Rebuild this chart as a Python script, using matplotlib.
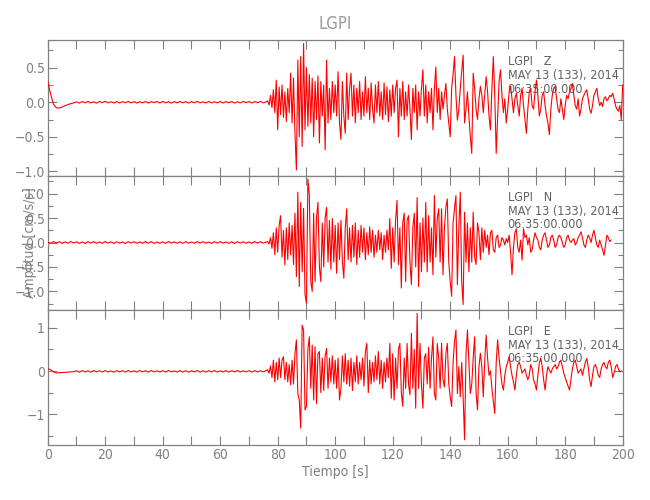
import numpy as np
import matplotlib
matplotlib.use("Agg")
import matplotlib.pyplot as plt
from matplotlib import font_manager
from matplotlib.ticker import MultipleLocator, FuncFormatter

# sampling: quiet part every 1 s from t=0, active part every 0.5 s from t=76.5
dt_q = 1.0
t0_a = 76.5
dt_a = 0.5

z_quiet = [0.30, 0.12, -0.03, -0.08, -0.085, -0.07, -0.05, -0.035, -0.02, -0.01,
           0.005, -0.012, 0.010, -0.008, 0.012, -0.010, 0.006, -0.014, 0.011, -0.006,
           0.013, -0.009, 0.007, -0.012, 0.010, -0.011, 0.008, -0.007, 0.012, -0.010,
           0.009, -0.013, 0.006, -0.009, 0.011, -0.012, 0.008, -0.006, 0.010, -0.011,
           0.012, -0.008, 0.007, -0.013, 0.009, -0.010, 0.011, -0.007, 0.008, -0.012,
           0.010, -0.009, 0.013, -0.008, 0.006, -0.011, 0.012, -0.010, 0.007, -0.009,
           0.011, -0.012, 0.009, -0.007, 0.010, -0.013, 0.008, -0.010, 0.012, -0.006,
           0.009, -0.011, 0.010, -0.008, 0.012, -0.010, 0.006]

z_active = [0.02, -0.04, 0.10, -0.08, 0.18, -0.15, 0.32, -0.40, 0.22, -0.18,
            0.25, -0.22, 0.15, -0.28, 0.20, -0.15, 0.42, -0.30, 0.35, -0.45,
            -0.98, 0.61, -0.50, 0.66, -0.64, 0.85, -0.40, 0.50, -0.35, 0.40,
            -0.30, 0.35, -0.50, 0.30, -0.25, 0.38, -0.59, 0.30, -0.20, 0.25,
            -0.69, 0.61, -0.30, 0.20, -0.25, 0.30, -0.15, 0.25, -0.20, 0.44,
            -0.30, -0.54, 0.30, -0.20, -0.45, 0.42, -0.25, 0.20, 0.42, -0.20,
            0.25, -0.30, 0.20, -0.15, 0.30, -0.25, 0.15, -0.20, 0.37, -0.15,
            0.20, -0.25, 0.28, -0.10, -0.30, 0.25, -0.15, 0.30, -0.20, 0.15,
            -0.25, 0.28, -0.18, 0.22, -0.28, 0.18, -0.20, 0.25, -0.15, 0.20,
            0.32, -0.50, 0.20, -0.20, 0.30, -0.25, 0.15, -0.20, 0.25, -0.10,
            -0.54, 0.20, -0.15, 0.25, -0.40, 0.15, -0.20, 0.20, 0.47, -0.20,
            0.25, -0.30, 0.15, -0.15, 0.20, -0.40, 0.20, 0.51, -0.15, 0.20,
            -0.25, 0.15, -0.10, 0.10, 0.27, -0.10, -0.30, -0.50, 0.20, 0.40,
            0.66, 0.10, -0.26, -0.10, 0.20, 0.45, 0.68, -0.30, -0.10, 0.15,
            -0.20, -0.50, -0.74, 0.42, 0.20, -0.10, -0.25, 0.05, 0.23, 0.10,
            -0.15, 0.10, 0.37, 0.15, -0.20, -0.40, 0.20, 0.66, 0.10, -0.74,
            -0.20, 0.30, 0.47, 0.10, -0.15, 0.05, -0.30, -0.10, 0.15, 0.23,
            0.05, -0.15, 0.05, 0.13, -0.05, -0.20, 0.10, 0.20, -0.05, -0.25,
            -0.45, -0.10, 0.15, 0.20, -0.05, -0.10, 0.15, 0.32, 0.10, -0.20,
            -0.10, 0.10, 0.15, -0.05, -0.20, -0.30, -0.47, -0.10, 0.10, 0.20,
            0.23, 0.05, -0.10, -0.15, 0.05, -0.10, -0.25, -0.05, 0.10, 0.05,
            0.15, 0.20, 0.27, 0.10, -0.05, -0.10, 0.05, -0.20, -0.10, 0.05,
            0.10, 0.15, 0.18, 0.05, -0.10, -0.16, -0.05, 0.10, 0.15, 0.20,
            0.05, -0.05, 0.00, -0.06, 0.05, 0.08, 0.02, 0.05, 0.10, 0.08,
            0.13, 0.05, -0.05, -0.10, -0.13, -0.05, -0.25, 0.25]

n_quiet = [0.010, -0.015, 0.018, -0.012, 0.016, -0.018, 0.012, -0.015, 0.020, -0.010,
           0.014, -0.017, 0.011, -0.019, 0.015, -0.012, 0.018, -0.014, 0.010, -0.016,
           0.019, -0.011, 0.013, -0.018, 0.016, -0.013, 0.012, -0.020, 0.017, -0.010,
           0.015, -0.016, 0.011, -0.014, 0.018, -0.012, 0.016, -0.019, 0.010, -0.015,
           0.013, -0.017, 0.019, -0.011, 0.014, -0.016, 0.012, -0.018, 0.017, -0.013,
           0.011, -0.015, 0.016, -0.012, 0.018, -0.014, 0.010, -0.017, 0.015, -0.011,
           0.019, -0.013, 0.012, -0.016, 0.014, -0.018, 0.016, -0.010, 0.013, -0.015,
           0.011, -0.017, 0.018, -0.012, 0.015, -0.014, 0.010]

n_active = [0.02, -0.03, 0.10, -0.12, 0.20, -0.25, 0.30, -0.20, 0.35, 0.55,
            -0.30, 0.25, -0.46, 0.30, -0.35, 0.40, -0.25, 0.35, -0.45, 0.60,
            -0.70, 1.03, -0.90, 0.82, -0.60, 0.70, -1.07, -1.24, 1.30, 0.96,
            -0.80, -1.00, 0.60, -0.80, 0.50, 0.82, -0.50, -0.80, 0.40, -0.50,
            0.50, 0.72, -0.40, 0.45, -0.55, 0.49, -0.40, 0.35, -0.63, 0.40,
            -0.35, 0.45, -0.40, -0.73, 0.30, 0.69, -0.35, 0.30, -0.40, 0.35,
            -0.30, 0.40, -0.45, 0.25, -0.30, 0.35, -0.20, 0.30, -0.35, 0.20,
            -0.25, 0.32, -0.20, 0.25, -0.30, 0.15, -0.20, 0.25, -0.15, 0.20,
            -0.35, 0.15, -0.20, 0.25, -0.15, 0.49, -0.53, 0.30, -0.40, 0.45,
            0.86, -0.45, 0.30, -0.93, 0.40, 0.60, -0.80, 0.45, 0.55, -0.40,
            -0.86, 0.30, 0.60, -0.50, 0.92, -0.90, 0.40, -0.60, 0.50, -0.40,
            0.82, -0.60, 0.55, -0.40, 0.30, -0.66, 0.96, -0.30, 0.50, 0.69,
            -0.40, 0.69, -0.66, 0.30, 0.72, 0.89, -0.40, -0.80, -1.10, 0.40,
            0.70, 0.96, -0.86, 0.30, 1.03, -0.80, -1.27, 0.62, -0.40, 0.40,
            -0.60, 0.30, -0.40, 0.62, -0.30, -0.45, 0.40, 0.20, -0.35, 0.30,
            -0.20, 0.25, -0.10, 0.15, -0.25, 0.20, 0.25, -0.15, -0.20, 0.10,
            0.15, -0.10, -0.05, 0.10, 0.05, -0.05, 0.08, 0.00, 0.15, -0.20,
            -0.66, -0.10, 0.20, 0.28, -0.10, -0.20, 0.05, -0.36, 0.28, 0.10,
            0.15, -0.05, 0.10, -0.20, -0.15, 0.05, 0.20, 0.10, 0.05, -0.10,
            -0.15, 0.05, 0.15, 0.20, 0.05, -0.10, -0.05, 0.10, 0.15, 0.05,
            -0.10, -0.05, 0.10, 0.15, 0.10, 0.00, -0.10, -0.05, 0.10, 0.15,
            0.05, 0.00, 0.05, 0.08, -0.05, 0.00, 0.10, 0.15, 0.22, 0.10,
            -0.05, -0.10, 0.05, 0.15, 0.10, 0.00, 0.15, 0.25, 0.10, -0.05,
            -0.10, 0.05, -0.05, -0.15, -0.26, -0.05, 0.15, 0.10, 0.02, 0.05]

e_quiet = [0.05, 0.03, -0.02, -0.045, -0.04, -0.035, -0.03, -0.025, -0.02, -0.015,
           0.005, -0.025, 0.008, -0.022, 0.004, -0.026, 0.010, -0.020, 0.006, -0.024,
           0.009, -0.021, 0.003, -0.027, 0.008, -0.019, 0.007, -0.025, 0.010, -0.022,
           0.004, -0.024, 0.009, -0.020, 0.006, -0.026, 0.011, -0.021, 0.005, -0.023,
           0.008, -0.025, 0.010, -0.019, 0.004, -0.024, 0.009, -0.022, 0.007, -0.026,
           0.005, -0.020, 0.011, -0.023, 0.006, -0.025, 0.008, -0.021, 0.010, -0.024,
           0.004, -0.022, 0.009, -0.026, 0.007, -0.020, 0.011, -0.023, 0.005, -0.019,
           0.008, -0.025, 0.010, -0.021, 0.006, -0.018, 0.012]

e_active = [0.03, -0.05, 0.12, -0.15, 0.25, -0.25, 0.20, -0.20, 0.30, -0.15,
            0.25, 0.33, -0.20, 0.20, -0.25, 0.15, -0.32, 0.25, -0.30, 0.40,
            0.72, -0.52, -0.67, -1.32, 1.06, 0.95, -0.90, -0.82, 0.50, 0.79,
            -0.40, 0.60, -0.67, 0.56, -0.75, 0.40, 0.45, -0.50, 0.30, -0.45,
            0.35, 0.52, -0.40, 0.30, -0.25, 0.35, -0.30, 0.25, -0.40, 0.30,
            -0.67, -0.40, 0.35, -0.25, 0.40, -0.30, 0.25, -0.35, 0.30, -0.45,
            0.20, -0.25, 0.35, -0.30, 0.20, -0.20, 0.30, -0.35, 0.45, 0.64,
            -0.50, 0.25, -0.30, 0.20, -0.25, 0.35, -0.20, 0.45, -0.30, 0.25,
            -0.40, 0.20, -0.25, 0.30, -0.15, 0.64, -0.63, 0.40, -0.67, 0.30,
            -0.40, 0.50, 0.64, -0.50, -0.82, 0.30, -0.40, 0.64, -0.30, -0.55,
            0.87, -0.40, 0.50, -0.86, 1.33, -0.40, 0.64, -0.30, -0.86, 0.30,
            0.40, -0.30, 0.55, -0.40, 0.30, 0.79, -0.52, -0.67, 0.64, 0.30,
            -0.40, 0.64, -0.20, -0.37, 0.40, 0.64, -0.30, -0.60, -0.82, 0.20,
            0.68, 0.95, -0.52, 0.10, -0.60, 0.20, -0.60, -1.59, 0.40, 0.95,
            0.20, -0.52, -0.30, 0.30, 0.79, -0.50, -0.90, 0.10, 0.41, 0.10,
            -0.60, 0.20, 0.83, 0.30, -0.10, 0.00, -0.40, -0.70, -0.98, 0.20,
            0.72, 0.30, 0.00, -0.30, -0.44, -0.10, 0.10, 0.20, 0.33, 0.10,
            -0.10, -0.25, -0.44, -0.10, 0.15, 0.20, 0.10, -0.05, 0.00, 0.05,
            -0.10, -0.20, -0.10, 0.15, 0.05, -0.20, -0.30, -0.44, -0.10, 0.18,
            0.30, 0.10, -0.20, -0.44, -0.10, 0.10, 0.02, -0.05, 0.05, 0.10,
            0.15, 0.05, 0.10, 0.20, 0.25, 0.10, -0.05, -0.15, -0.25, -0.35,
            -0.44, -0.20, 0.05, 0.20, 0.25, 0.10, -0.05, 0.00, 0.05, -0.10,
            0.05, 0.20, 0.29, 0.10, -0.20, -0.36, -0.10, 0.10, 0.15, 0.05,
            -0.10, -0.15, 0.05, 0.15, 0.20, 0.10, 0.05, 0.20, 0.25, 0.10,
            -0.15, -0.05, 0.10, 0.15, 0.05, -0.02, 0.00]

components = ["Z", "N", "E"]
quiet = [z_quiet, n_quiet, e_quiet]
active = [z_active, n_active, e_active]
ylims = [(-1.06, 0.90), (-1.38, 1.37), (-1.71, 1.41)]
major = [0.5, 0.5, 1.0]
minor = [0.25, 0.25, 0.5]
yfmt = ["%.1f", "%.1f", "%d"]

station = "LGPI"
date_line = "MAY 13 (133), 2014"
time_line = "06:35:00.000"

# narrow, thin lettering like the plotting package's stroke font
names = {f.name for f in font_manager.fontManager.ttflist}
fam = [n for n in ["Liberation Sans Narrow", "DejaVu Sans"] if n in names]
plt.rcParams["font.family"] = fam
plt.rcParams["font.stretch"] = "condensed"
gray = "#808080"
tsize = 9

fig = plt.figure(figsize=(6.5, 5), dpi=100)
left, right = 0.0734, 0.958
edges = [0.92, 0.649, 0.38, 0.11]

for i in range(3):
    ax = fig.add_axes([left, edges[i + 1], right - left, edges[i] - edges[i + 1]])
    tq = np.arange(len(quiet[i])) * dt_q
    ta = t0_a + np.arange(len(active[i])) * dt_a
    t = np.concatenate([tq, ta])
    y = np.concatenate([quiet[i], active[i]])
    ax.plot(t, y, color="red", lw=0.8, zorder=3)

    ax.set_xlim(0, 200)
    ax.set_ylim(*ylims[i])
    ax.xaxis.set_major_locator(MultipleLocator(20))
    ax.xaxis.set_minor_locator(MultipleLocator(10))
    ax.yaxis.set_major_locator(MultipleLocator(major[i]))
    ax.yaxis.set_minor_locator(MultipleLocator(minor[i]))
    f = yfmt[i]
    ax.yaxis.set_major_formatter(FuncFormatter(lambda v, p, f=f: (f % v).replace("-", "\u2212")))
    ax.tick_params(which="both", direction="in", top=True, right=True,
                   color=gray, labelcolor=gray, labelsize=10, pad=2)
    ax.tick_params(which="major", length=6.5, width=0.8)
    ax.tick_params(which="minor", length=6.5, width=0.8)
    ax.tick_params(axis="y", which="minor", length=3.5)
    for s in ax.spines.values():
        s.set_color(gray)
        s.set_linewidth(0.9)
    if i < 2:
        ax.tick_params(labelbottom=False)

    tr = ax.get_xaxis_transform()
    ax.text(160, 0.84, station + "   " + components[i], transform=tr,
            color="#606060", fontsize=tsize, va="center", ha="left", zorder=1)
    ax.text(160, 0.735, date_line, transform=tr,
            color="#606060", fontsize=tsize, va="center", ha="left", zorder=1)
    ax.text(160, 0.638, time_line, transform=tr,
            color="#606060", fontsize=tsize, va="center", ha="left", zorder=1)

fig.text(0.516, 0.952, station, ha="center", va="center", color="#999999", fontsize=12)
fig.text(0.516, 0.056, "Tiempo [s]", ha="center", va="center", color=gray, fontsize=10)
fig.text(0.046, 0.515, "Amplitud [cm/s/s]", ha="center", va="center", rotation=90,
         color=gray, fontsize=10)

fig.savefig("out.png", dpi=100)
